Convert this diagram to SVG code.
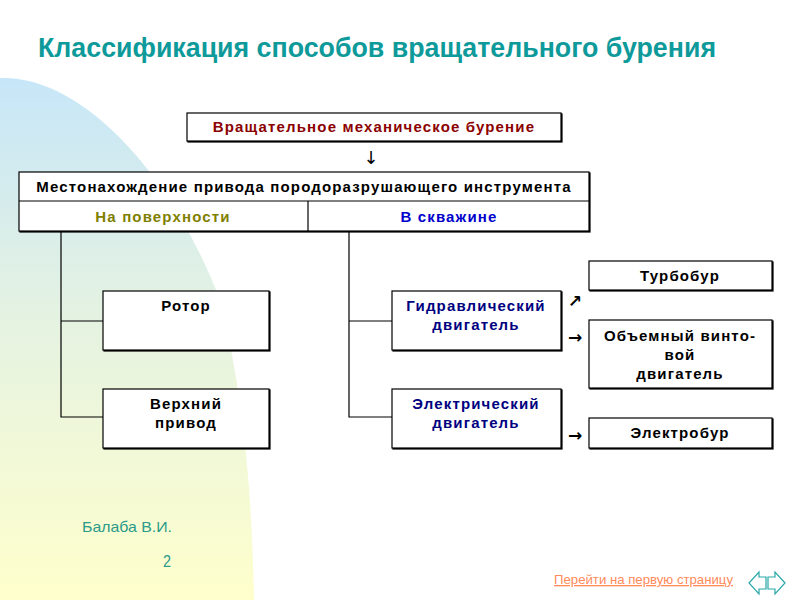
<svg xmlns="http://www.w3.org/2000/svg" width="800" height="600" viewBox="0 0 800 600">
<defs>
<linearGradient id="bg" x1="0" y1="75" x2="0" y2="600" gradientUnits="userSpaceOnUse">
<stop offset="0" stop-color="#c6e6f8"/>
<stop offset="0.45" stop-color="#e4f2e2"/>
<stop offset="1" stop-color="#ffffcc"/>
</linearGradient>
<style>
.box{fill:#fff;stroke:#000;stroke-width:1.2}
.sd{fill:#000;stroke:#000;stroke-width:1.2}
.ln{fill:none;stroke:#000;stroke-width:1.2}
.t{font-family:"Liberation Sans",Arial,sans-serif;font-weight:bold;font-size:15px;text-anchor:middle;letter-spacing:1.15px}
.blk{fill:#000}
.nav{fill:#000080}
.arr{font-family:"DejaVu Sans",sans-serif;font-size:17px;font-weight:bold;fill:#000}
</style>
</defs>
<rect width="800" height="600" fill="#fff"/>
<path d="M0,600 L0,78 C80,75 170,170 220,300 C245,400 252,500 254,600 Z" fill="url(#bg)"/>
<text x="38" y="57" font-family="Liberation Sans,Arial,sans-serif" font-weight="bold" font-size="27" fill="#0e9a9a" textLength="678" lengthAdjust="spacingAndGlyphs">Классификация способов вращательного бурения</text>

<g id="top">
<rect class="sd" x="188" y="114" width="374" height="28"/>
<rect class="box" x="187" y="113" width="374" height="28"/>
<text class="t" x="374" y="132" fill="#8b0000">Вращательное механическое бурение</text>
</g>
<text x="371" y="164" font-family="DejaVu Sans,sans-serif" font-size="18" text-anchor="middle" fill="#000">↓</text>

<g id="location">
<rect class="sd" x="20" y="173" width="570" height="59"/>
<rect class="box" x="19" y="172" width="570" height="59"/>
<line class="ln" x1="19" y1="201" x2="589" y2="201"/>
<line class="ln" x1="308" y1="201" x2="308" y2="231"/>
<text class="t blk" x="304" y="192">Местонахождение привода породоразрушающего инструмента</text>
<text class="t" x="163" y="222" fill="#7f7f00">На поверхности</text>
<text class="t" x="449" y="222" fill="#0000cc">В скважине</text>
</g>

<g id="connectors">
<path class="ln" d="M61,232 V417 H103 M61,321 H103"/>
<path class="ln" d="M349,232 V417 H392 M349,321 H392"/>
</g>

<g id="rotor">
<rect class="sd" x="104" y="292" width="166" height="59"/>
<rect class="box" x="103" y="291" width="166" height="59"/>
<text class="t blk" x="186" y="311">Ротор</text>
</g>
<g id="topdrive">
<rect class="sd" x="104" y="390" width="166" height="59"/>
<rect class="box" x="103" y="389" width="166" height="59"/>
<text class="t blk" x="186" y="409">Верхний</text>
<text class="t blk" x="186" y="428">привод</text>
</g>
<g id="hydro">
<rect class="sd" x="393" y="292" width="169" height="59"/>
<rect class="box" x="392" y="291" width="169" height="59"/>
<text class="t nav" x="476" y="311">Гидравлический</text>
<text class="t nav" x="476" y="330">двигатель</text>
</g>
<g id="electric">
<rect class="sd" x="393" y="390" width="169" height="59"/>
<rect class="box" x="392" y="389" width="169" height="59"/>
<text class="t nav" x="476" y="409">Электрический</text>
<text class="t nav" x="476" y="428">двигатель</text>
</g>
<g id="turbo">
<rect class="sd" x="590" y="262" width="183" height="29"/>
<rect class="box" x="589" y="261" width="183" height="29"/>
<text class="t blk" x="680" y="281">Турбобур</text>
</g>
<g id="screw">
<rect class="sd" x="590" y="321" width="183" height="68"/>
<rect class="box" x="589" y="320" width="183" height="68"/>
<text class="t blk" x="680" y="341">Объемный винто-</text>
<text class="t blk" x="680" y="360">вой</text>
<text class="t blk" x="680" y="379">двигатель</text>
</g>
<g id="electrobur">
<rect class="sd" x="590" y="419" width="183" height="30"/>
<rect class="box" x="589" y="418" width="183" height="30"/>
<text class="t blk" x="680" y="438">Электробур</text>
</g>

<g id="arrows">
<text class="arr" x="568" y="307">↗</text>
<text class="arr" x="568" y="343">→</text>
<text class="arr" x="568" y="441">→</text>
</g>

<text x="82" y="532" font-family="Liberation Sans,Arial,sans-serif" font-size="15" fill="#2a9a8a" textLength="90" lengthAdjust="spacingAndGlyphs">Балаба В.И.</text>
<text x="163" y="567" font-family="Liberation Sans,Arial,sans-serif" font-size="16" fill="#2a9a8a" textLength="8" lengthAdjust="spacingAndGlyphs">2</text>
<text x="554" y="584" font-family="Liberation Sans,Arial,sans-serif" font-size="13" fill="#ff8a5a" text-decoration="underline" textLength="179" lengthAdjust="spacingAndGlyphs">Перейти  на первую страницу</text>
<g id="nav" fill="#fff" stroke="#2aa8a8" stroke-width="1.2">
<path d="M749,583 L759,572 V577 H766 V589 H759 V594 Z"/>
<path d="M785,583 L775,572 V577 H768 V589 H775 V594 Z"/>
</g>
</svg>
